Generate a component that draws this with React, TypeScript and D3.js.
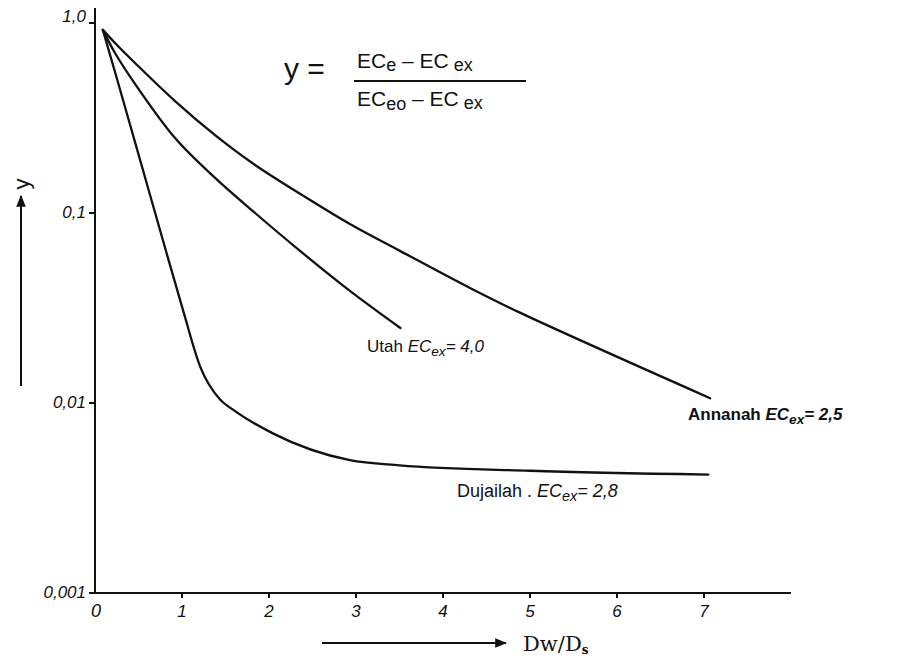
import React, { useRef, useEffect } from "react";
import * as d3 from "d3";

// values (y on log scale)
const annanahX = [0.09, 0.23, 0.46, 0.92, 1.38, 1.84, 2.36, 2.93, 3.51, 4.31, 4.89, 7.07];
const annanahY = [0.92, 0.785, 0.616, 0.388, 0.257, 0.179, 0.126, 0.0875, 0.063, 0.0403, 0.0298, 0.0106];

const utahX = [0.09, 0.23, 0.46, 0.92, 1.38, 1.84, 2.36, 2.93, 3.51];
const utahY = [0.92, 0.695, 0.478, 0.248, 0.153, 0.1, 0.063, 0.0389, 0.0248];

const dujailahX = [0.09, 0.23, 0.46, 0.77, 1.01, 1.21, 1.44, 1.59, 2.05, 2.93, 3.5, 5.0, 7.05];
const dujailahY = [0.92, 0.552, 0.236, 0.0748, 0.031, 0.0155, 0.0104, 0.0092, 0.0069, 0.005, 0.0047, 0.0044, 0.0042];

const yTicks = [1, 0.1, 0.01, 0.001];
const yTickLabels = ["1,0", "0,1", "0,01", "0,001"];
const xTicks = [1, 2, 3, 4, 5, 6, 7];
const xTickLabels = ["1", "2", "3", "4", "5", "6", "7"];

const W = 912;
const H = 659;

const Chart = () => {
  const svgRef = useRef<SVGSVGElement | null>(null);

  useEffect(() => {
    if (!svgRef.current) return;
    const svg = d3.select(svgRef.current);
    svg.selectAll("*").remove();

    const x = d3.scaleLinear().domain([0, 8]).range([95, 791]);
    const y = d3.scaleLog().domain([0.001, 1]).range([593, 23]);

    const hand = "'Liberation Sans', Arial, sans-serif";

    svg.append("rect").attr("width", W).attr("height", H).attr("fill", "#fff");

    // axes
    const axisG = svg.append("g").attr("stroke", "#111").attr("stroke-width", 2).attr("fill", "none");
    axisG.append("line")
      .attr("x1", x(0)).attr("x2", x(0))
      .attr("y1", y(0.001)).attr("y2", y(1.2));
    axisG.append("line")
      .attr("x1", x(0)).attr("x2", x(8))
      .attr("y1", y(0.001)).attr("y2", y(0.001));

    yTicks.forEach((t, i) => {
      axisG.append("line")
        .attr("x1", x(0) - 6).attr("x2", x(0))
        .attr("y1", y(t)).attr("y2", y(t));
      svg.append("text")
        .attr("x", x(0) - 9).attr("y", y(t) + (i === 0 ? -1 : 5))
        .attr("text-anchor", "end")
        .attr("font-family", hand).attr("font-style", "italic")
        .attr("font-size", 17).attr("fill", "#111")
        .text(yTickLabels[i]);
    });

    xTicks.forEach((t, i) => {
      axisG.append("line")
        .attr("x1", x(t)).attr("x2", x(t))
        .attr("y1", y(0.001)).attr("y2", y(0.001) + 5);
      svg.append("text")
        .attr("x", x(t)).attr("y", y(0.001) + 24)
        .attr("text-anchor", "middle")
        .attr("font-family", hand).attr("font-style", "italic")
        .attr("font-size", 17).attr("fill", "#111")
        .text(xTickLabels[i]);
    });
    svg.append("text")
      .attr("x", x(0) + 1).attr("y", y(0.001) + 24)
      .attr("text-anchor", "middle")
      .attr("font-family", hand).attr("font-style", "italic")
      .attr("font-size", 18).attr("fill", "#111")
      .text("0");

    // curves
    const smooth = d3.line<[number, number]>()
      .x(d => x(d[0]))
      .y(d => y(d[1]))
      .curve(d3.curveCatmullRom.alpha(0.5));
    const bent = d3.line<[number, number]>()
      .x(d => x(d[0]))
      .y(d => y(d[1]))
      .curve(d3.curveMonotoneX);

    const series = [
      { xs: annanahX, ys: annanahY, gen: smooth },
      { xs: utahX, ys: utahY, gen: smooth },
      { xs: dujailahX, ys: dujailahY, gen: bent },
    ];
    series.forEach(s => {
      const pts = s.xs.map((v, i) => [v, s.ys[i]] as [number, number]);
      svg.append("path")
        .attr("d", s.gen(pts))
        .attr("fill", "none")
        .attr("stroke", "#111")
        .attr("stroke-width", 2.3)
        .attr("stroke-linecap", "round");
    });

    // curve labels
    const label = (tx: number, ty: number, name: string, value: string, size: number, bold: boolean) => {
      const t = svg.append("text")
        .attr("x", tx).attr("y", ty)
        .attr("font-family", hand)
        .attr("font-size", size)
        .attr("font-weight", bold ? "bold" : "normal")
        .attr("fill", "#111");
      t.append("tspan").text(name + " ");
      t.append("tspan").attr("font-style", "italic").text("EC");
      t.append("tspan").attr("font-style", "italic").attr("font-size", size * 0.8).attr("dy", 4).text("ex");
      t.append("tspan").attr("font-style", "italic").attr("dy", -4).text("= " + value);
    };
    label(367, 352, "Utah", "4,0", 17, false);
    label(688, 420, "Annanah", "2,5", 17, true);
    label(457, 497, "Dujailah .", "2,8", 18, false);

    // formula
    const f = svg.append("g").attr("font-family", hand).attr("fill", "#111");
    f.append("text").attr("x", 284).attr("y", 79).attr("font-size", 30).text("y =");
    const num = f.append("text").attr("x", 357).attr("y", 68).attr("font-size", 21);
    num.append("tspan").text("EC");
    num.append("tspan").attr("font-size", 18).attr("dy", 3).text("e");
    num.append("tspan").attr("dy", -3).text(" – EC");
    num.append("tspan").attr("font-size", 18).attr("dy", 3).text(" ex");
    f.append("line")
      .attr("x1", 354).attr("x2", 526).attr("y1", 81).attr("y2", 81)
      .attr("stroke", "#111").attr("stroke-width", 2);
    const den = f.append("text").attr("x", 357).attr("y", 106).attr("font-size", 21);
    den.append("tspan").text("EC");
    den.append("tspan").attr("font-size", 18).attr("dy", 4).text("eo");
    den.append("tspan").attr("dy", -4).text(" – EC");
    den.append("tspan").attr("font-size", 18).attr("dy", 3).text(" ex");

    // axis titles with arrows
    const defs = svg.append("defs");
    defs.append("marker")
      .attr("id", "arr")
      .attr("viewBox", "0 0 10 10")
      .attr("refX", 9).attr("refY", 5)
      .attr("markerWidth", 6).attr("markerHeight", 6)
      .attr("orient", "auto")
      .append("path").attr("d", "M0,1 L10,5 L0,9 Z").attr("fill", "#111");

    svg.append("line")
      .attr("x1", 21).attr("x2", 21).attr("y1", 386).attr("y2", 196)
      .attr("stroke", "#111").attr("stroke-width", 2)
      .attr("marker-end", "url(#arr)");
    svg.append("text")
      .attr("transform", "translate(29,184) rotate(-90)")
      .attr("text-anchor", "middle")
      .attr("font-family", hand).attr("font-size", 22).attr("fill", "#111")
      .text("y");

    svg.append("line")
      .attr("x1", 322).attr("x2", 506).attr("y1", 643).attr("y2", 643)
      .attr("stroke", "#111").attr("stroke-width", 2)
      .attr("marker-end", "url(#arr)");
    const xt = svg.append("text")
      .attr("x", 523).attr("y", 651)
      .attr("font-family", "'DejaVu Serif', serif").attr("font-size", 21).attr("fill", "#111");
    xt.append("tspan").text("Dw/D");
    xt.append("tspan").attr("font-size", 12).attr("dy", 3).attr("font-weight", "bold").text("s");
  }, []);

  return (
    <svg
      ref={svgRef}
      width={W}
      height={H}
      style={{ position: "absolute", left: 0, top: 0, display: "block" }}
    />
  );
};

export default function App() {
  return <Chart />;
}
